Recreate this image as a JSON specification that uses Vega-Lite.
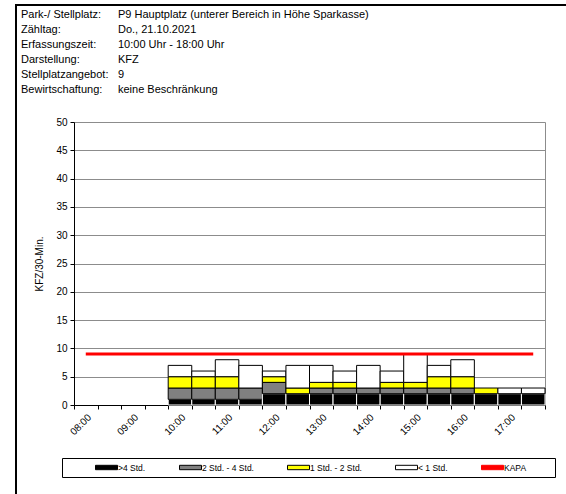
{
  "$schema": "https://vega.github.io/schema/vega-lite/v6.json",
  "width": 550,
  "height": 489,
  "autosize": {"type": "none"},
  "padding": {"left": 16, "top": 5, "right": 0, "bottom": 0},
  "background": "#ffffff",
  "config": {
    "font": "Liberation Sans",
    "view": {"stroke": "#000000", "strokeWidth": 2, "strokeDash": [550, 1039, 489, 10]}
  },
  "datasets": {
    "counts": [
      {"t": "10:00", "cat": ">4 Std.", "k": 0, "v": 1}, {"t": "10:00", "cat": "2 Std. - 4 Std.", "k": 1, "v": 2}, {"t": "10:00", "cat": "1 Std. - 2 Std.", "k": 2, "v": 2}, {"t": "10:00", "cat": "< 1 Std.", "k": 3, "v": 2},
      {"t": "10:30", "cat": ">4 Std.", "k": 0, "v": 1}, {"t": "10:30", "cat": "2 Std. - 4 Std.", "k": 1, "v": 2}, {"t": "10:30", "cat": "1 Std. - 2 Std.", "k": 2, "v": 2}, {"t": "10:30", "cat": "< 1 Std.", "k": 3, "v": 1},
      {"t": "11:00", "cat": ">4 Std.", "k": 0, "v": 1}, {"t": "11:00", "cat": "2 Std. - 4 Std.", "k": 1, "v": 2}, {"t": "11:00", "cat": "1 Std. - 2 Std.", "k": 2, "v": 2}, {"t": "11:00", "cat": "< 1 Std.", "k": 3, "v": 3},
      {"t": "11:30", "cat": ">4 Std.", "k": 0, "v": 1}, {"t": "11:30", "cat": "2 Std. - 4 Std.", "k": 1, "v": 2}, {"t": "11:30", "cat": "< 1 Std.", "k": 3, "v": 4},
      {"t": "12:00", "cat": ">4 Std.", "k": 0, "v": 2}, {"t": "12:00", "cat": "2 Std. - 4 Std.", "k": 1, "v": 2}, {"t": "12:00", "cat": "1 Std. - 2 Std.", "k": 2, "v": 1}, {"t": "12:00", "cat": "< 1 Std.", "k": 3, "v": 1},
      {"t": "12:30", "cat": ">4 Std.", "k": 0, "v": 2}, {"t": "12:30", "cat": "1 Std. - 2 Std.", "k": 2, "v": 1}, {"t": "12:30", "cat": "< 1 Std.", "k": 3, "v": 4},
      {"t": "13:00", "cat": ">4 Std.", "k": 0, "v": 2}, {"t": "13:00", "cat": "2 Std. - 4 Std.", "k": 1, "v": 1}, {"t": "13:00", "cat": "1 Std. - 2 Std.", "k": 2, "v": 1}, {"t": "13:00", "cat": "< 1 Std.", "k": 3, "v": 3},
      {"t": "13:30", "cat": ">4 Std.", "k": 0, "v": 2}, {"t": "13:30", "cat": "2 Std. - 4 Std.", "k": 1, "v": 1}, {"t": "13:30", "cat": "1 Std. - 2 Std.", "k": 2, "v": 1}, {"t": "13:30", "cat": "< 1 Std.", "k": 3, "v": 2},
      {"t": "14:00", "cat": ">4 Std.", "k": 0, "v": 2}, {"t": "14:00", "cat": "2 Std. - 4 Std.", "k": 1, "v": 1}, {"t": "14:00", "cat": "< 1 Std.", "k": 3, "v": 4},
      {"t": "14:30", "cat": ">4 Std.", "k": 0, "v": 2}, {"t": "14:30", "cat": "2 Std. - 4 Std.", "k": 1, "v": 1}, {"t": "14:30", "cat": "1 Std. - 2 Std.", "k": 2, "v": 1}, {"t": "14:30", "cat": "< 1 Std.", "k": 3, "v": 2},
      {"t": "15:00", "cat": ">4 Std.", "k": 0, "v": 2}, {"t": "15:00", "cat": "2 Std. - 4 Std.", "k": 1, "v": 1}, {"t": "15:00", "cat": "1 Std. - 2 Std.", "k": 2, "v": 1}, {"t": "15:00", "cat": "< 1 Std.", "k": 3, "v": 5},
      {"t": "15:30", "cat": ">4 Std.", "k": 0, "v": 2}, {"t": "15:30", "cat": "2 Std. - 4 Std.", "k": 1, "v": 1}, {"t": "15:30", "cat": "1 Std. - 2 Std.", "k": 2, "v": 2}, {"t": "15:30", "cat": "< 1 Std.", "k": 3, "v": 2},
      {"t": "16:00", "cat": ">4 Std.", "k": 0, "v": 2}, {"t": "16:00", "cat": "2 Std. - 4 Std.", "k": 1, "v": 1}, {"t": "16:00", "cat": "1 Std. - 2 Std.", "k": 2, "v": 2}, {"t": "16:00", "cat": "< 1 Std.", "k": 3, "v": 3},
      {"t": "16:30", "cat": ">4 Std.", "k": 0, "v": 2}, {"t": "16:30", "cat": "1 Std. - 2 Std.", "k": 2, "v": 1},
      {"t": "17:00", "cat": ">4 Std.", "k": 0, "v": 2}, {"t": "17:00", "cat": "< 1 Std.", "k": 3, "v": 1},
      {"t": "17:30", "cat": ">4 Std.", "k": 0, "v": 2}, {"t": "17:30", "cat": "< 1 Std.", "k": 3, "v": 1}
    ],
    "kapa": [
      {"t": "08:00", "v": 9}, {"t": "08:30", "v": 9}, {"t": "09:00", "v": 9}, {"t": "09:30", "v": 9},
      {"t": "10:00", "v": 9}, {"t": "10:30", "v": 9}, {"t": "11:00", "v": 9}, {"t": "11:30", "v": 9},
      {"t": "12:00", "v": 9}, {"t": "12:30", "v": 9}, {"t": "13:00", "v": 9}, {"t": "13:30", "v": 9},
      {"t": "14:00", "v": 9}, {"t": "14:30", "v": 9}, {"t": "15:00", "v": 9}, {"t": "15:30", "v": 9},
      {"t": "16:00", "v": 9}, {"t": "16:30", "v": 9}, {"t": "17:00", "v": 9}, {"t": "17:30", "v": 9}
    ],
    "header": [
      {"row": 1, "col": "k", "text": "Park-/ Stellplatz:"},
      {"row": 1, "col": "v", "text": "P9 Hauptplatz (unterer Bereich in Höhe Sparkasse)"},
      {"row": 2, "col": "k", "text": "Zähltag:"},
      {"row": 2, "col": "v", "text": "Do., 21.10.2021"},
      {"row": 3, "col": "k", "text": "Erfassungszeit:"},
      {"row": 3, "col": "v", "text": "10:00 Uhr - 18:00 Uhr"},
      {"row": 4, "col": "k", "text": "Darstellung:"},
      {"row": 4, "col": "v", "text": "KFZ"},
      {"row": 5, "col": "k", "text": "Stellplatzangebot:"},
      {"row": 5, "col": "v", "text": "9"},
      {"row": 6, "col": "k", "text": "Bewirtschaftung:"},
      {"row": 6, "col": "v", "text": "keine Beschränkung"}
    ]
  },
  "layer": [
    {
      "layer": [
        {
          "data": {"name": "counts"},
          "mark": {"type": "bar", "strokeWidth": 1},
          "encoding": {
            "x": {
              "field": "t", "type": "nominal", "sort": null,
              "scale": {"domain": ["08:00","08:30","09:00","09:30","10:00","10:30","11:00","11:30","12:00","12:30","13:00","13:30","14:00","14:30","15:00","15:30","16:00","16:30","17:00","17:30"], "range": [58, 529], "paddingInner": 0, "paddingOuter": 0},
              "axis": {"title": null, "offset": -89, "tickBand": "extent", "labelAngle": -45, "labelAlign": "right", "labelBaseline": "top", "labelPadding": 3, "labelFontSize": 10, "labelColor": "#000000", "tickSize": 4, "tickColor": "#000000", "domainColor": "#000000", "grid": false, "labelExpr": "substring(datum.label, 3) == '00' ? datum.label : ''"}
            },
            "y": {
              "field": "v", "type": "quantitative", "stack": "zero",
              "scale": {"domain": [0, 50], "range": [400, 117], "nice": false},
              "axis": {"title": "KFZ/30-Min.", "offset": -58, "values": [0,5,10,15,20,25,30,35,40,45,50], "grid": true, "gridColor": "#8c8c8c", "domainColor": "#000000", "tickColor": "#000000", "tickSize": 4, "labelFontSize": 10, "labelColor": "#000000", "labelPadding": 3, "titleFontSize": 10, "titleFontWeight": "normal", "titleColor": "#000000", "titlePadding": 11}
            },
            "color": {
              "field": "cat", "type": "nominal",
              "scale": {"domain": [">4 Std.", "2 Std. - 4 Std.", "1 Std. - 2 Std.", "< 1 Std.", "KAPA"], "range": ["#000000", "#808080", "#ffff00", "#ffffff", "#ff0000"]},
              "legend": {
                "orient": "none", "legendX": 46, "legendY": 453, "direction": "horizontal",
                "title": " ", "titleOrient": "right", "titlePadding": 24, "titleFontSize": 8,
                "symbolType": "M-2.75,-0.55H2.75V0.55H-2.75Z", "symbolSize": 64, "labelFontSize": 8.5, "labelColor": "#000000",
                "labelOffset": 7, "columnPadding": 5, "symbolOffset": 35, "padding": 5,
                "strokeColor": "#000000", "fillColor": "#ffffff",
                "encoding": {"symbols": {
                  "stroke": {"condition": {"test": "datum.value === 'KAPA'", "value": "#ff0000"}, "value": "#000000"},
                  "strokeWidth": {"value": 1},
                  "opacity": {"value": 1},
                  "strokeOpacity": {"value": 1}
                }}
              }
            },
            "stroke": {"condition": {"test": "datum.cat === '>4 Std.'", "value": "#ffffff"}, "value": "#000000"},
            "order": {"field": "k", "type": "quantitative"}
          }
        },
        {
          "data": {"name": "kapa"},
          "mark": {"type": "line", "strokeWidth": 3, "color": "#ff0000"},
          "encoding": {
            "x": {"field": "t", "type": "nominal", "sort": null},
            "y": {"field": "v", "type": "quantitative", "axis": {"orient": "right", "offset": -21, "labels": false, "ticks": false, "title": null, "grid": false, "domainColor": "#8c8c8c"}}
          }
        }
      ],
      "resolve": {"axis": {"y": "independent"}}
    },
    {
      "data": {"name": "header"},
      "mark": {"type": "text", "align": "left", "baseline": "middle", "fontSize": 11, "color": "#000000"},
      "encoding": {
        "x": {"field": "col", "type": "nominal", "scale": {"type": "point", "range": [5, 102], "padding": 0}, "axis": null},
        "y": {"field": "row", "type": "ordinal", "scale": {"type": "point", "range": [9.5, 84.5], "padding": 0}, "axis": null},
        "text": {"field": "text"}
      }
    }
  ],
  "resolve": {"scale": {"x": "independent", "y": "independent"}}
}
